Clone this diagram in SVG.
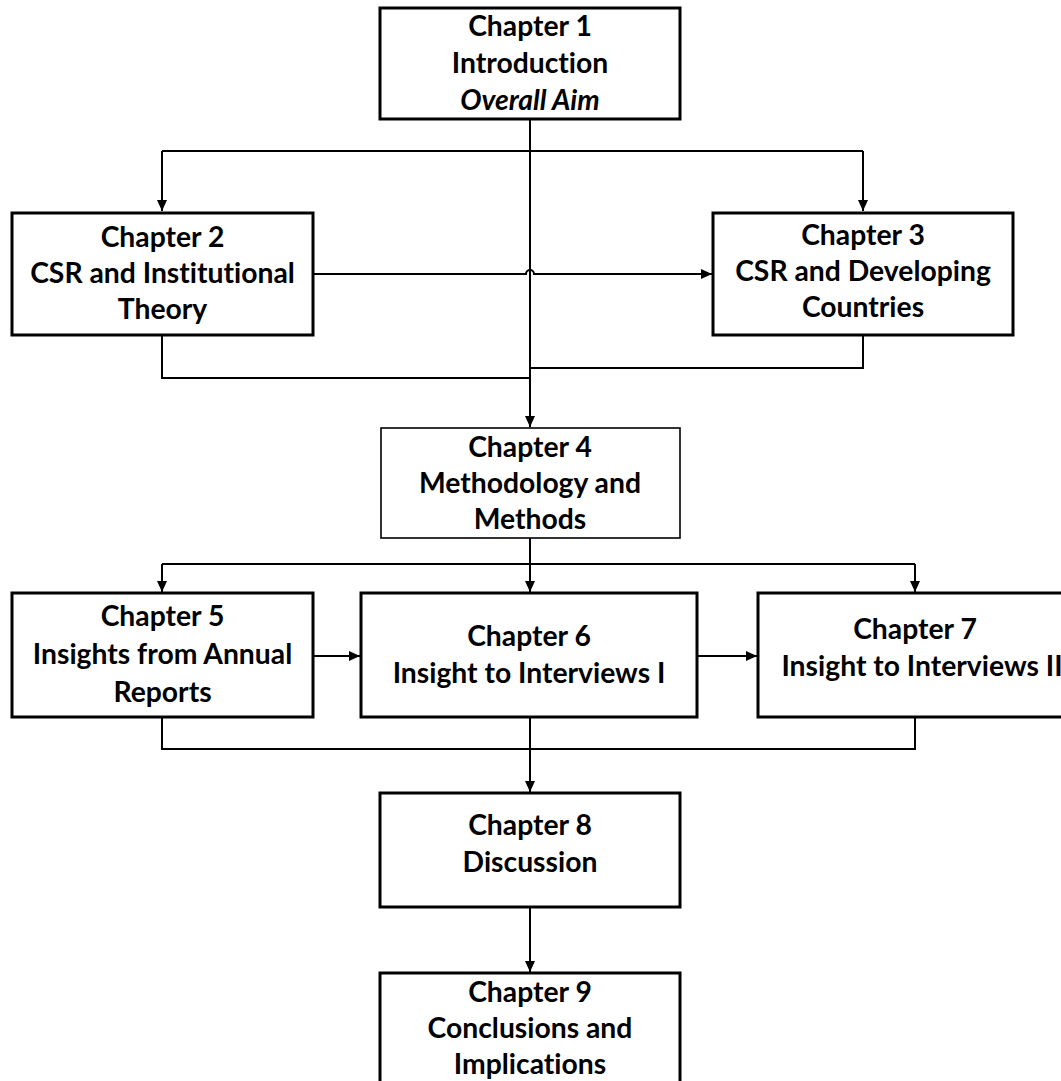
<svg xmlns="http://www.w3.org/2000/svg" width="1061" height="1081" viewBox="0 0 1061 1081">
<style>
.box{fill:#fff;stroke:#000;stroke-width:3}
.thin{stroke-width:1.6}
.t{font-family:Lato,"Liberation Sans",sans-serif;font-weight:700;font-size:28.3px;fill:#000;text-anchor:middle;font-variant-ligatures:none;font-feature-settings:"liga" 0,"clig" 0}
.it{font-style:italic}
.c{fill:none;stroke:#000;stroke-width:2}
.a{marker-end:url(#ah)}
</style>
<defs>
<marker id="ah" markerUnits="userSpaceOnUse" markerWidth="12" markerHeight="10" refX="11" refY="5" orient="auto">
<path d="M0,0 L11,5 L0,10 z" fill="#000"/>
</marker>
</defs>
<rect width="1061" height="1081" fill="#fff"/>
<g id="connectors">
<path class="c a" d="M530,119 V427"/>
<path class="c" d="M162,151 H863"/>
<path class="c a" d="M162,151 V211"/>
<path class="c a" d="M863,151 V211"/>
<path class="c a" d="M314,274 H526 A4,4 0 0 1 534,274 H712"/>
<path class="c" d="M162,336 V378 H530"/>
<path class="c" d="M863,336 V368 H530"/>
<path class="c" d="M530,538 V564"/>
<path class="c" d="M162,564 H915"/>
<path class="c a" d="M162,564 V592"/>
<path class="c a" d="M530,564 V592"/>
<path class="c a" d="M915,564 V592"/>
<path class="c a" d="M314,656 H360"/>
<path class="c a" d="M698,656 H757"/>
<path class="c" d="M162,718 V749 H915 V718"/>
<path class="c a" d="M530,718 V792"/>
<path class="c a" d="M530,908 V972"/>
</g>
<g id="ch1">
<rect class="box" x="380" y="8" width="300" height="111"/>
<text class="t" x="530" y="36">Chapter 1</text>
<text class="t" x="530" y="73">Introduction</text>
<text class="t it" x="530" y="110">Overall Aim</text>
</g>
<g id="ch2">
<rect class="box" x="12" y="213" width="301" height="122"/>
<text class="t" x="162.5" y="247">Chapter 2</text>
<text class="t" x="162.5" y="283">CSR and Institutional</text>
<text class="t" x="162.5" y="319">Theory</text>
</g>
<g id="ch3">
<rect class="box" x="713" y="213" width="300" height="122"/>
<text class="t" x="863" y="245">Chapter 3</text>
<text class="t" x="863" y="281">CSR and Developing</text>
<text class="t" x="863" y="317">Countries</text>
</g>
<g id="ch4">
<rect class="box thin" x="381" y="428" width="299" height="110"/>
<text class="t" x="530" y="457">Chapter 4</text>
<text class="t" x="530" y="493">Methodology and</text>
<text class="t" x="530" y="529">Methods</text>
</g>
<g id="ch5">
<rect class="box" x="12" y="593" width="301" height="124"/>
<text class="t" x="162.5" y="626">Chapter 5</text>
<text class="t" x="162.5" y="664">Insights from Annual</text>
<text class="t" x="162.5" y="702">Reports</text>
</g>
<g id="ch6">
<rect class="box" x="361" y="593" width="336" height="124"/>
<text class="t" x="529" y="646">Chapter 6</text>
<text class="t" x="529" y="683">Insight to Interviews I</text>
</g>
<g id="ch7">
<rect class="box" x="758" y="593" width="316" height="124"/>
<text class="t" x="915" y="639">Chapter 7</text>
<text class="t" x="922" y="676">Insight to Interviews II</text>
</g>
<g id="ch8">
<rect class="box" x="380" y="793" width="300" height="114"/>
<text class="t" x="530" y="835">Chapter 8</text>
<text class="t" x="530" y="872">Discussion</text>
</g>
<g id="ch9">
<rect class="box" x="380" y="973" width="300" height="118"/>
<text class="t" x="530" y="1002">Chapter 9</text>
<text class="t" x="530" y="1038">Conclusions and</text>
<text class="t" x="530" y="1074">Implications</text>
</g>
</svg>
